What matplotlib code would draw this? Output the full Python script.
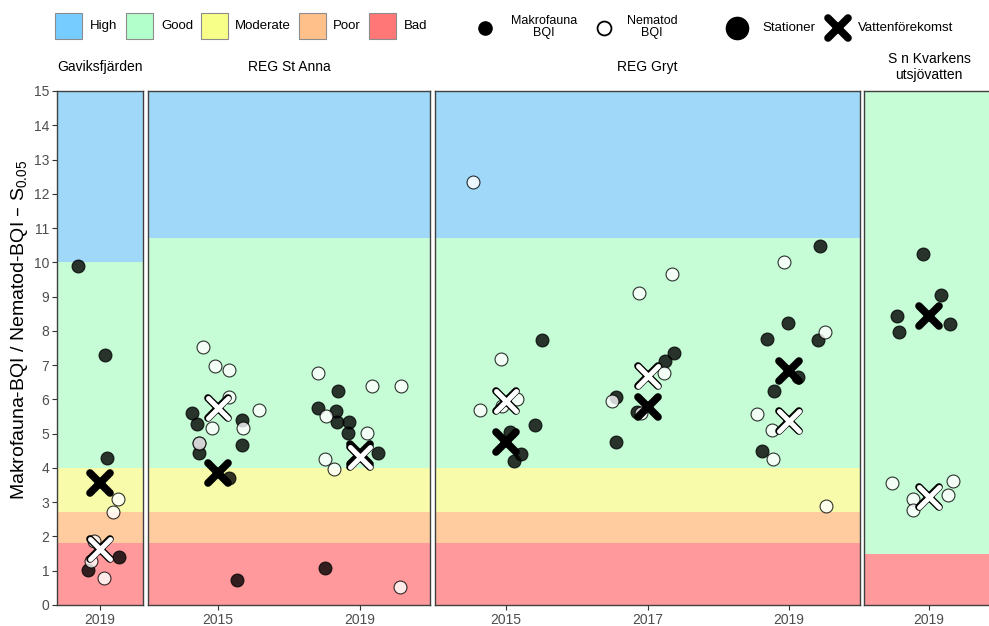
import matplotlib.pyplot as plt
from matplotlib.markers import MarkerStyle
from matplotlib.patches import Rectangle

plt.rcParams['font.family'] = ['Liberation Sans', 'DejaVu Sans']
plt.rcParams['mathtext.default'] = 'regular'

# status classes, top to bottom
status_names = ['High', 'Good', 'Moderate', 'Poor', 'Bad']
band_colors = ['#a0d8fa', '#c6fcd6', '#f8fcaa', '#ffcc9f', '#ff999c']
legend_colors = ['#77ccff', '#b3ffcb', '#f8ff88', '#ffc08a', '#ff7777']

panel_names = ['Gaviksfjärden', 'REG St Anna', 'REG Gryt', 'S n Kvarkens\nutsjövatten']
panel_years = [[2019], [2015, 2019], [2015, 2017, 2019], [2019]]

# class limits per water body: Bad/Poor, Poor/Moderate, Moderate/Good, Good/High
class_limits = [
    [1.8, 2.7, 4.0, 10.0],
    [1.8, 2.7, 4.0, 10.7],
    [1.8, 2.7, 4.0, 10.7],
    [1.5, 1.5, 1.5, 15.0],
]

# station values (year + jitter, index value)
gav_makro_x = [2018.49, 2019.12, 2019.16, 2018.72, 2019.44]
gav_makro_y = [9.9, 7.3, 4.3, 1.02, 1.4]
gav_nema_x = [2019.42, 2019.30, 2019.09, 2018.79, 2018.86]
gav_nema_y = [3.1, 2.7, 0.8, 1.28, 1.87]

stanna_makro_x = [2014.26, 2014.40, 2014.47, 2014.48, 2015.67, 2015.68, 2015.32, 2015.53,
                  2018.38, 2017.82, 2018.32, 2018.36, 2018.68, 2018.67, 2019.50, 2018.01]
stanna_makro_y = [5.59, 5.28, 4.44, 4.74, 5.40, 4.66, 3.71, 0.73,
                  6.25, 5.76, 5.66, 5.35, 5.35, 5.01, 4.43, 1.09]
stanna_nema_x = [2014.59, 2014.91, 2015.30, 2015.32, 2014.84, 2015.70, 2016.16, 2014.48,
                 2017.82, 2019.33, 2020.14, 2018.04, 2019.19, 2018.02, 2018.27, 2020.13]
stanna_nema_y = [7.54, 6.98, 6.86, 6.06, 5.17, 5.16, 5.69, 4.74,
                 6.78, 6.39, 6.39, 5.52, 5.03, 4.25, 3.96, 0.53]

gryt_makro_x = [2015.51, 2015.41, 2015.06, 2015.21, 2015.11,
                2017.37, 2017.25, 2016.55, 2016.85, 2016.56,
                2019.44, 2018.98, 2018.68, 2019.40, 2019.13, 2018.79, 2018.62]
gryt_makro_y = [7.73, 5.25, 5.06, 4.41, 4.19,
                7.34, 7.12, 6.08, 5.64, 4.77,
                10.49, 8.22, 7.75, 7.73, 6.66, 6.25, 4.50]
gryt_nema_x = [2014.54, 2014.93, 2014.64, 2015.16, 2014.95,
               2017.35, 2016.88, 2017.23, 2016.50, 2016.91,
               2018.93, 2019.51, 2018.55, 2018.76, 2018.77, 2019.52]
gryt_nema_y = [12.33, 7.17, 5.69, 6.00, 5.80,
               9.66, 9.11, 6.78, 5.95, 5.59,
               10.00, 7.96, 5.57, 5.10, 4.26, 2.90]

kvark_makro_x = [2018.90, 2019.18, 2018.51, 2018.54, 2019.32]
kvark_makro_y = [10.24, 9.05, 8.44, 7.97, 8.19]
kvark_nema_x = [2018.43, 2019.37, 2019.29, 2018.75, 2018.75]
kvark_nema_y = [3.57, 3.63, 3.21, 3.08, 2.77]

# water body values per year
wb_makro = [[3.55], [3.84, 4.40], [4.77, 5.79, 6.83], [8.44]]
wb_nema = [[1.63], [5.74, 4.33], [5.95, 6.68, 5.38], [3.14]]

makro_x = [gav_makro_x, stanna_makro_x, gryt_makro_x, kvark_makro_x]
makro_y = [gav_makro_y, stanna_makro_y, gryt_makro_y, kvark_makro_y]
nema_x = [gav_nema_x, stanna_nema_x, gryt_nema_x, kvark_nema_x]
nema_y = [gav_nema_y, stanna_nema_y, gryt_nema_y, kvark_nema_y]

# layout in pixels
W, H = 989, 626
panel_px = [(57, 143), (148, 430), (435, 860), (864, 994)]
top_px, bottom_px = 91, 605
x_limits = [(2018, 2020), (2013.03, 2020.97), (2014, 2020), (2018, 2020)]

fig = plt.figure(figsize=(W / 100, H / 100), dpi=100)

# legend strip drawn in pixel coordinates
leg = fig.add_axes([0, 0, 1, 1])
leg.set_xlim(0, W)
leg.set_ylim(H, 0)
leg.axis('off')

patch_x = [55, 126, 201, 299, 369]
label_x = [90, 161, 235, 333, 404]
for name, col, px, tx in zip(status_names, legend_colors, patch_x, label_x):
    leg.add_patch(Rectangle((px, 13), 27, 26, facecolor=col, edgecolor='#8c8c8c', lw=0.8))
    leg.text(tx, 26, name, fontsize=9.5, va='center', ha='left')

leg.plot([485], [28], 'o', ms=9.5, mfc='black', mec='black')
leg.text(544, 27, 'Makrofauna\nBQI', fontsize=9, ha='center', va='center', linespacing=1.0)
leg.plot([604], [28], 'o', ms=10, mfc='white', mec='black', mew=1.3)
leg.text(652, 27, 'Nematod\nBQI', fontsize=9, ha='center', va='center', linespacing=1.0)
leg.plot([737], [28], 'o', ms=16, mfc='black', mec='black')
leg.text(762, 28, 'Stationer', fontsize=9.5, ha='left', va='center')
cross = MarkerStyle('x', capstyle='round')
leg.plot([838], [28], marker=cross, ms=14, mew=5.5, color='black', ls='none')
leg.text(858, 28, 'Vattenförekomst', fontsize=9.5, ha='left', va='center')

axes = []
for i, (x0, x1) in enumerate(panel_px):
    ax = fig.add_axes([x0 / W, 1 - bottom_px / H, (x1 - x0) / W, (bottom_px - top_px) / H])
    axes.append(ax)

    edges = [0] + class_limits[i] + [15]
    for lo, hi, col in zip(edges[:-1], edges[1:], band_colors[::-1]):
        if hi > lo:
            ax.axhspan(lo, hi, color=col, lw=0, zorder=0)

    ax.scatter(makro_x[i], makro_y[i], s=86, facecolor='black', edgecolor='black',
               lw=0.8, alpha=0.8, zorder=2)
    ax.scatter(nema_x[i], nema_y[i], s=86, facecolor='white', edgecolor='black',
               lw=0.8, alpha=0.8, zorder=3)

    years = panel_years[i]
    ax.plot(years, wb_makro[i], marker=cross, ms=14.5, mew=5.5, color='black', ls='none', zorder=4)
    ax.plot(years, wb_nema[i], marker=cross, ms=14.5, mew=5.5, color='black', ls='none', zorder=5)
    ax.plot(years, wb_nema[i], marker=cross, ms=14.5, mew=3.6, color='white', ls='none', zorder=6)

    ax.set_xlim(*x_limits[i])
    ax.set_ylim(0, 15)
    ax.set_xticks(years)
    ax.set_xticklabels([str(y) for y in years])
    if i == 0:
        ax.set_yticks(range(0, 16))
    else:
        ax.set_yticks([])
    ax.tick_params(length=3.5, width=0.8, color='#333333', labelcolor='#4d4d4d',
                   labelsize=10, pad=2)
    for sp in ax.spines.values():
        sp.set_color('#404040')
        sp.set_linewidth(1.0)

    fig.text((x0 + x1) / 2 / W, 1 - 67 / H, panel_names[i], fontsize=10,
             ha='center', va='center', linespacing=1.1)

fig.text(20 / W, 1 - 330 / H, r'Makrofauna-BQI / Nematod-BQI – S$_{0.05}$',
         rotation=90, fontsize=14, ha='center', va='center')

fig.savefig('out.png', dpi=100)
